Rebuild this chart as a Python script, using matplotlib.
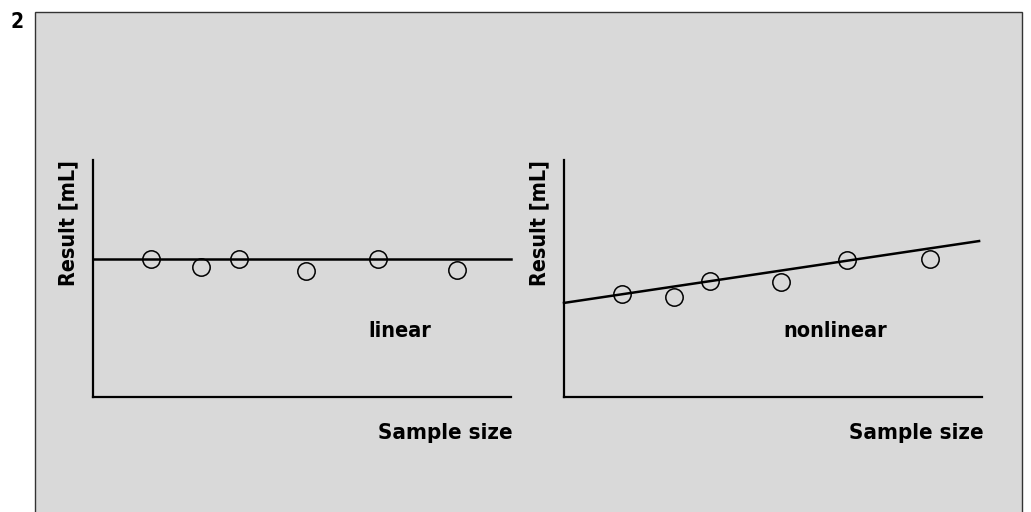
import matplotlib.pyplot as plt
from matplotlib.patches import Rectangle

plt.rcParams["font.family"] = ["DejaVu Sans"]
plt.rcParams["font.stretch"] = "condensed"

W, H = 1031, 512
BG = "#d9d9d9"

# sample positions (fraction of axis) and results
lin_x = [0.139, 0.258, 0.349, 0.510, 0.682, 0.871]
lin_y = [0.582, 0.549, 0.582, 0.532, 0.582, 0.536]
lin_fit_x = [0.0, 1.0]
lin_fit_y = [0.582, 0.582]

non_x = [0.139, 0.264, 0.350, 0.518, 0.676, 0.875]
non_y = [0.435, 0.422, 0.489, 0.485, 0.578, 0.582]
non_fit_x = [0.0, 0.993]
non_fit_y = [0.397, 0.658]

panels = [
    (93, lin_x, lin_y, lin_fit_x, lin_fit_y, "linear", 368),
    (564, non_x, non_y, non_fit_x, non_fit_y, "nonlinear", 783),
]

fig = plt.figure(figsize=(W / 100, H / 100), dpi=100)
fig.patch.set_facecolor("white")

# outer frame
fig.patches.append(Rectangle((35 / W, -0.05), (1022 - 35) / W, (H - 12) / H + 0.05,
                             transform=fig.transFigure, facecolor=BG,
                             edgecolor="#333333", linewidth=1.0, zorder=-5))
fig.text(10 / W, 1 - 22 / H, "2", fontsize=15, fontweight="bold",
         ha="left", va="center")

for x0, xs, ys, fx, fy, label, lx in panels:
    ax_w = 418
    ax = fig.add_axes([x0 / W, 1 - 397 / H, ax_w / W, (397 - 160) / H])
    ax.set_xlim(0, 1)
    ax.set_ylim(0, 1)
    ax.patch.set_alpha(0)
    for s in ["top", "right"]:
        ax.spines[s].set_visible(False)
    for s in ["left", "bottom"]:
        ax.spines[s].set_linewidth(1.6)
        ax.spines[s].set_color("black")
    ax.set_xticks([])
    ax.set_yticks([])
    ax.plot(fx, fy, color="black", linewidth=1.8, clip_on=False)
    ax.plot(xs, ys, "o", markersize=12.5, markerfacecolor="none",
            markeredgecolor="black", markeredgewidth=1.1, clip_on=False)
    ax.text(-25 / ax_w, 1.0, "Result [mL]", rotation=90, ha="center", va="top",
            fontsize=15.5, fontweight="bold", transform=ax.transAxes)
    ax.text((lx - x0) / ax_w, (397 - 331) / 237, label, ha="left", va="center",
            fontsize=15.5, fontweight="bold", transform=ax.transAxes)
    ax.text((ax_w + 2) / ax_w, -(433 - 397) / 237, "Sample size", ha="right",
            va="center", fontsize=16, fontweight="bold", transform=ax.transAxes)

fig.savefig("out.png", dpi=100, facecolor=fig.get_facecolor())
